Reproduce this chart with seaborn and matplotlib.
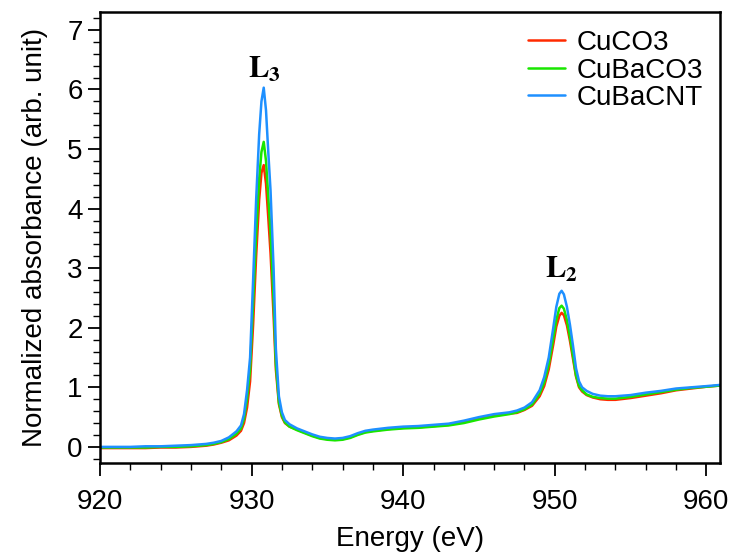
import pandas as pd
import matplotlib.pyplot as plt
import seaborn as sns

# Energy grid (eV)
energy = [920, 921, 922, 923, 924, 925, 926, 926.5, 927, 927.5,
          928, 928.5, 929, 929.3, 929.5, 929.7, 929.9, 930.1, 930.3, 930.5,
          930.65, 930.8, 930.95, 931.1, 931.25, 931.45, 931.6, 931.8, 932.0, 932.2,
          932.5, 933,
          933.5, 934, 934.5, 935, 935.5, 936, 936.5, 937, 937.5, 938,
          939, 940, 941, 942, 943, 944, 945, 946, 947,
          947.5, 948, 948.5, 949, 949.3, 949.6, 949.9, 950.1, 950.3, 950.45,
          950.6, 950.8, 951.0, 951.2, 951.4, 951.6, 951.8, 952.1, 952.5, 953,
          953.5, 954,
          955, 956, 957, 958, 959, 960, 960.9]

cuco3 = [-0.02, -0.02, -0.02, -0.02, -0.01, -0.01, 0.0, 0.01, 0.02, 0.04,
         0.07, 0.11, 0.19, 0.27, 0.40, 0.66, 1.10, 2.05, 3.20, 4.15,
         4.60, 4.73, 4.42, 3.85, 3.25, 2.20, 1.30, 0.72, 0.50, 0.40,
         0.34, 0.29,
         0.24, 0.19, 0.15, 0.13, 0.12, 0.13, 0.16, 0.21, 0.25, 0.27,
         0.30, 0.32, 0.33, 0.35, 0.37, 0.42, 0.48, 0.53, 0.56,
         0.57, 0.62, 0.69, 0.85, 1.02, 1.30, 1.72, 2.02, 2.20, 2.25,
         2.21, 2.04, 1.78, 1.48, 1.18, 1.00, 0.93, 0.87, 0.83, 0.80,
         0.79, 0.79,
         0.82, 0.86, 0.90, 0.95, 0.98, 1.01, 1.03]

cubaco3 = [-0.01, -0.01, -0.01, -0.01, 0.0, 0.0, 0.01, 0.02, 0.03, 0.05,
           0.08, 0.13, 0.22, 0.31, 0.47, 0.80, 1.30, 2.40, 3.55, 4.50,
           4.95, 5.12, 4.80, 4.20, 3.60, 2.45, 1.40, 0.75, 0.52, 0.41,
           0.34, 0.28,
           0.23, 0.18, 0.14, 0.12, 0.11, 0.12, 0.15, 0.20, 0.24, 0.26,
           0.29, 0.31, 0.32, 0.34, 0.36, 0.40, 0.46, 0.51, 0.55,
           0.58, 0.63, 0.71, 0.89, 1.08, 1.38, 1.82, 2.13, 2.33, 2.37,
           2.32, 2.13, 1.85, 1.53, 1.20, 1.02, 0.95, 0.88, 0.84, 0.82,
           0.81, 0.81,
           0.84, 0.88, 0.92, 0.96, 0.99, 1.01, 1.03]

cubacnt = [0.0, 0.0, 0.0, 0.01, 0.01, 0.02, 0.03, 0.04, 0.05, 0.07,
           0.10, 0.16, 0.26, 0.36, 0.55, 0.95, 1.50, 2.80, 4.15, 5.25,
           5.80, 6.03, 5.65, 4.95, 4.30, 3.00, 1.65, 0.85, 0.58, 0.45,
           0.38, 0.31,
           0.26, 0.21, 0.17, 0.15, 0.14, 0.15, 0.18, 0.23, 0.27, 0.29,
           0.32, 0.34, 0.35, 0.37, 0.39, 0.44, 0.50, 0.55, 0.58,
           0.61, 0.66, 0.75, 0.95, 1.17, 1.50, 2.00, 2.35, 2.57, 2.62,
           2.56, 2.35, 2.05, 1.70, 1.32, 1.10, 1.00, 0.94, 0.89, 0.86,
           0.85, 0.85,
           0.87, 0.91, 0.94, 0.98, 1.00, 1.02, 1.04]

samples = ['CuCO3', 'CuBaCO3', 'CuBaCNT']
colors = ['#ff2a00', '#19e600', '#1e90ff']

df = pd.concat([
    pd.DataFrame({'Energy': energy, 'Absorbance': vals, 'Sample': name})
    for name, vals in zip(samples, [cuco3, cubaco3, cubacnt])
])

sns.set_style('ticks')
plt.rcParams['font.family'] = ['Liberation Sans', 'DejaVu Sans']
plt.rcParams['mathtext.fontset'] = 'stix'
for key in ['text.color', 'axes.labelcolor', 'xtick.color', 'ytick.color', 'axes.edgecolor']:
    plt.rcParams[key] = 'black'

fig = plt.figure(figsize=(7.31, 5.58), dpi=100)
ax = fig.add_axes([0.1368, 0.1703, 0.8482, 0.8082])

sns.lineplot(data=df, x='Energy', y='Absorbance', hue='Sample',
             palette=dict(zip(samples, colors)), linewidth=1.8, ax=ax)

ax.set_xlim(920, 960.9)
ax.set_ylim(-0.27, 7.3)
ax.set_xticks([920, 930, 940, 950, 960])
ax.set_xticks(range(920, 962, 2), minor=True)
ax.set_yticks(range(0, 8))
ax.set_yticks([i * 0.2 for i in range(-1, 37)], minor=True)
ax.tick_params(axis='both', which='major', labelsize=20, length=9, width=1.3, direction='out')
ax.tick_params(axis='x', which='major', pad=10)
ax.tick_params(axis='both', which='minor', length=5, width=1.0, direction='out')
for s in ax.spines.values():
    s.set_linewidth(1.8)

ax.set_xlabel('Energy (eV)', fontsize=20, labelpad=8)
ax.set_ylabel('Normalized absorbance (arb. unit)', fontsize=20, labelpad=14)

ax.text(929.77, 6.2, r'$\mathbf{L_3}$', fontsize=22)
ax.text(949.37, 2.85, r'$\mathbf{L_2}$', fontsize=22)

leg = ax.legend(loc='upper right', frameon=False, fontsize=20, handlelength=1.35,
                labelspacing=0.06, handletextpad=0.4, borderaxespad=0.0,
                bbox_to_anchor=(0.99, 0.985))
for line in leg.get_lines():
    line.set_linewidth(1.8)

plt.savefig('out.png', dpi=100)
